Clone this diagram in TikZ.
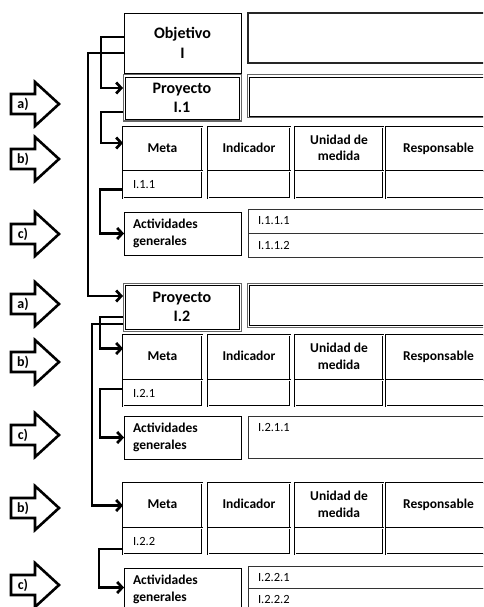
\documentclass[tikz,border=0pt]{standalone}
\usepackage{fontspec}
\setmainfont{Carlito}
\usetikzlibrary{calc, arrows.meta, positioning}
\colorlet{pline}{black!60}
\tikzset{
    box/.style = {draw, line width=0.8pt, anchor=north west, outer sep=0pt, inner sep=0pt, align=center},
    projbox/.style = {box, draw=pline, line width=1pt,
        path picture={\draw[black, line width=0.8pt] ([shift={(2pt,-2pt)}]path picture bounding box.north west) rectangle ([shift={(-2pt,2pt)}]path picture bounding box.south east);}},
    cell/.style = {box, line width=1pt, double=white, double distance=0.9pt},
    big/.style = {font=\bfseries\fontsize{16}{19.5}\selectfont},
    head/.style = {font=\bfseries\fontsize{13.5}{16.5}\selectfont},
    code/.style = {font=\fontsize{12.5}{14}\selectfont},
    link/.style = {line width=2.7pt, -{Straight Barb[length=5pt, width=11pt]}},
    blockarrow/.style = {draw, line width=2.6pt, line join=miter, fill=white},
    arrlabel/.style = {font=\bfseries\fontsize{14}{15}\selectfont, inner sep=0pt}
}
\newcommand{\drawArr}[3]{
    \draw[blockarrow] (11,#2-10) -- (35,#2-10) -- (35,#2-22) -- (59,#2) -- (35,#2+22) -- (35,#2+10) -- (11,#2+10) -- cycle;
    \node[arrlabel] (#1) at (23,#2) {#3};
}
\newcommand{\drawMeta}[5]{
    \node[cell, head, minimum width=79pt, minimum height=#3pt] (#1m) at (123,#2) {Meta\strut};
    \node[cell, head, minimum width=82pt, minimum height=#3pt] (#1i) at (208,#2) {Indicador\strut};
    \node[cell, head, minimum width=88pt, minimum height=#3pt] (#1u) at (295,#2) {Unidad de\strut\\medida\strut};
    \node[cell, head, minimum width=105pt, minimum height=#3pt] (#1r) at (386,#2) {Responsable\strut};
    \node[cell, code, text width=59pt, inner xsep=10pt, align=left, minimum height=#4pt] (#1v) at (#1m.south west) {#5};
    \node[cell, minimum width=82pt, minimum height=#4pt] (#1iv) at (#1i.south west) {};
    \node[cell, minimum width=88pt, minimum height=#4pt] (#1uv) at (#1u.south west) {};
    \node[cell, minimum width=105pt, minimum height=#4pt] (#1rv) at (#1r.south west) {};
}
\newcommand{\drawAct}[2]{
    \node[box, head, text width=99pt, inner xsep=9pt, align=left, minimum height=43pt] (#1) at (124,#2) {Actividades\\generales};
}
\begin{document}
\begin{tikzpicture}[x=1pt, y=-1pt]
    \useasboundingbox (0,0) rectangle (483,607);
    \clip (0,0) rectangle (483,607);

    % Objetivo
        \node[box, big, minimum width=117pt, minimum height=60pt] (obj) at (124,13) {Objetivo\\I};
        \node[box, line width=1.8pt, draw=black!85, minimum width=260pt, minimum height=50pt] (objr) at (248,13) {};

    % Proyecto I.1
        \node[projbox, big, minimum width=118pt, minimum height=46pt] (p1) at (123,75) {Proyecto\\I.1};
        \node[projbox, minimum width=260pt, minimum height=43pt] (p1r) at (247,75) {};
        \drawMeta{m1}{127}{44}{27}{I.1.1}
        \drawAct{a1}{212}
        \node[box, code, draw=black!80, text width=240pt, inner xsep=10pt, align=left, minimum height=24pt] (a1r) at (248,209) {I.1.1.1};
        \node[box, code, draw=black!80, text width=240pt, inner xsep=10pt, align=left, minimum height=24pt] (a1s) at (a1r.south west) {I.1.1.2};

    % Proyecto I.2
        \node[projbox, big, minimum width=118pt, minimum height=48pt] (p2) at (123,283) {Proyecto\\I.2};
        \node[projbox, minimum width=260pt, minimum height=44pt] (p2r) at (247,283) {};
        \drawMeta{m2}{335}{45}{26}{I.2.1}
        \drawAct{a2}{416}
        \node[box, draw=black!80, minimum width=260pt, minimum height=42pt] (a2r) at (248,416) {};
        \node[code, anchor=north west, inner sep=0pt] (c211) at ([xshift=10pt, yshift=-7pt]a2r.north west) {I.2.1.1};
        \drawMeta{m3}{483}{45}{26}{I.2.2}
        \drawAct{a3}{568}
        \node[box, code, draw=black!80, text width=240pt, inner xsep=10pt, align=left, minimum height=22pt] (a3r) at (248,566) {I.2.2.1};
        \node[box, code, draw=black!80, text width=240pt, inner xsep=10pt, align=left, minimum height=22pt] (a3s) at (a3r.south west) {I.2.2.2};

    % Block arrows
        \drawArr{la1}{104}{a)}
        \drawArr{lb1}{159}{b)}
        \drawArr{lc1}{234}{c)}
        \drawArr{la2}{304}{a)}
        \drawArr{lb2}{362}{b)}
        \drawArr{lc2}{435}{c)}
        \drawArr{lb3}{508}{b)}
        \drawArr{lc3}{585}{c)}

    % Links
        \draw[link] ([yshift=6pt]obj.west) -- ++(-23,0) |- ([yshift=10pt]p1.west);
        \draw[link] ([yshift=-10pt]obj.west) -- ++(-36,0) |- ([yshift=11pt]p2.west);
        \draw[link] ([yshift=-14pt]p1.west) -- ++(-22,0) |- ([yshift=6pt]m1m.west);
        \draw[link] ([yshift=-5pt]m1v.west) -- ++(-23,0) |- (a1.west);
        \draw[link] ([yshift=-10pt]p2.west) -- ++(-23,0) |- ([yshift=9pt]m2m.west);
        \draw[link] ([yshift=-17pt]p2.west) -- ++(-31,0) |- (m3m.west);
        \draw[link] ([yshift=4pt]m2v.west) -- ++(-23,0) |- (a2.west);
        \draw[link] ([yshift=-8pt]m3v.west) -- ++(-24,0) |- ([yshift=2pt]a3.west);
\end{tikzpicture}
\end{document}
